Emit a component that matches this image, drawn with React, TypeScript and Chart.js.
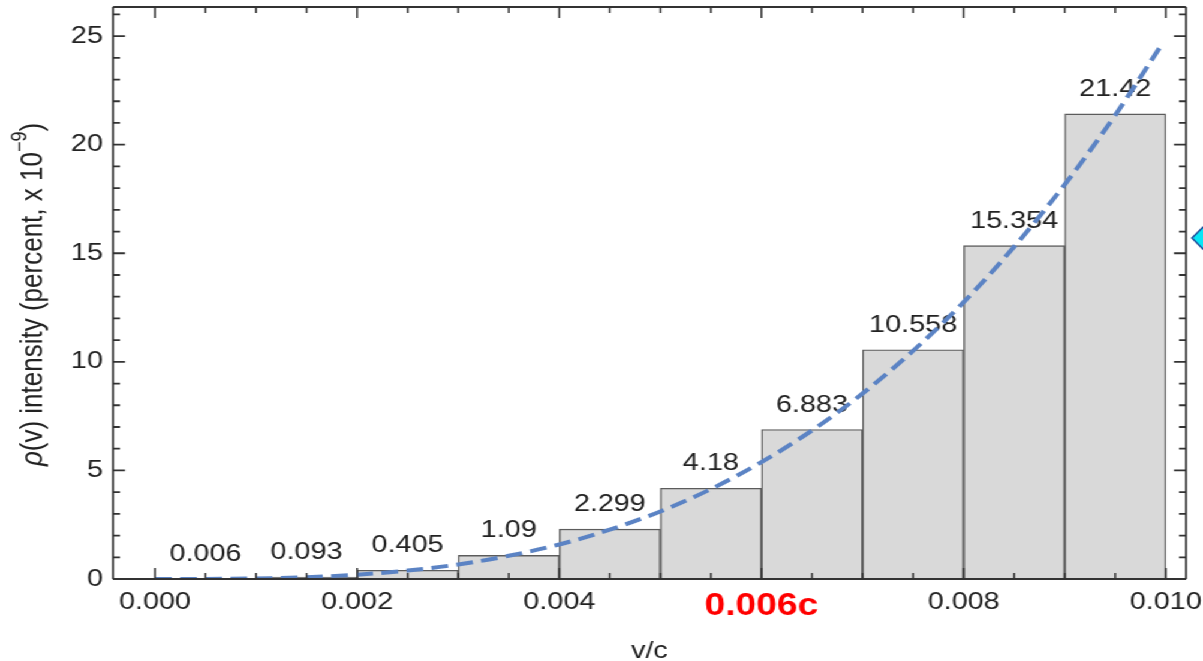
import React, { useEffect, useRef } from "react";
import { Chart, registerables } from "chart.js";

Chart.register(...registerables);

// Histogram bins (centre of each 0.001-wide bin in v/c) and their intensities
const binCenters = [0.0005, 0.0015, 0.0025, 0.0035, 0.0045, 0.0055, 0.0065, 0.0075, 0.0085, 0.0095];
const binValues = [0.006, 0.093, 0.405, 1.09, 2.299, 4.18, 6.883, 10.558, 15.354, 21.42];

// Dashed reference curve
const curveX = [0, 0.0005, 0.001, 0.0015, 0.002, 0.0025, 0.003, 0.0035, 0.004, 0.0045, 0.005, 0.0055, 0.006, 0.0065, 0.007, 0.0075, 0.008, 0.0085, 0.009, 0.0095, 0.00995];
const curveY = [0, 0.003, 0.025, 0.084, 0.2, 0.39, 0.67, 1.07, 1.59, 2.27, 3.11, 4.14, 5.38, 6.84, 8.54, 10.51, 12.75, 15.3, 18.16, 21.36, 24.54];

// Axis tick values
const xMajorTicks = [0, 0.002, 0.004, 0.006, 0.008, 0.01];
const xMinorStep = 0.0005;
const yMajorTicks = [0, 5, 10, 15, 20, 25];
const yMinorStep = 1;
const highlightTick = 0.006;

const CANVAS_W = 1003;
const CANVAS_H = 661;
const STRETCH = 1203 / CANVAS_W;
const FONT = '"Liberation Sans", Arial, Helvetica, sans-serif';
const TEXT = "#222";

const isHighlight = (v: number) => Math.abs(v - highlightTick) < 1e-9;

const decor = {
  id: "decor",
  afterDatasetDraw(chart: any, args: any) {
    if (args.index !== 0) return;
    const ctx = chart.ctx;
    const meta = chart.getDatasetMeta(0);
    ctx.save();
    ctx.font = `24px ${FONT}`;
    ctx.fillStyle = TEXT;
    ctx.textAlign = "center";
    ctx.textBaseline = "alphabetic";
    meta.data.forEach((el: any, i: number) => {
      ctx.fillText(String(binValues[i]), el.x, el.y - 18);
    });
    ctx.restore();
  },
  afterDatasetsDraw(chart: any) {
    const ctx = chart.ctx;
    const { left, right, top, bottom } = chart.chartArea;
    const xs = chart.scales.x;
    const ys = chart.scales.y;
    ctx.save();
    ctx.strokeStyle = "#333";

    // frame
    ctx.lineWidth = 2;
    ctx.beginPath();
    ctx.moveTo(left, top); ctx.lineTo(right, top);
    ctx.moveTo(left, bottom); ctx.lineTo(right, bottom);
    ctx.stroke();
    ctx.lineWidth = 2 / STRETCH;
    ctx.beginPath();
    ctx.moveTo(left, top); ctx.lineTo(left, bottom);
    ctx.moveTo(right, top); ctx.lineTo(right, bottom);
    ctx.stroke();

    // x ticks (bottom and top, pointing inward)
    ctx.lineWidth = 1.8 / STRETCH;
    ctx.beginPath();
    for (let k = 0; k * xMinorStep <= xs.max + 1e-12; k++) {
      const v = k * xMinorStep;
      if (v < xs.min) continue;
      const major = xMajorTicks.some((m) => Math.abs(m - v) < 1e-9);
      const len = major ? 11 : 6;
      const px = xs.getPixelForValue(v);
      ctx.moveTo(px, bottom); ctx.lineTo(px, bottom - len);
      ctx.moveTo(px, top); ctx.lineTo(px, top + len);
    }
    ctx.stroke();

    // y ticks (left and right, pointing inward)
    ctx.lineWidth = 1.8;
    ctx.beginPath();
    for (let k = 0; k * yMinorStep <= ys.max; k++) {
      const v = k * yMinorStep;
      const major = yMajorTicks.includes(v);
      const len = (major ? 12 : 7) / STRETCH;
      const py = ys.getPixelForValue(v);
      ctx.moveTo(left, py); ctx.lineTo(left + len, py);
      ctx.moveTo(right, py); ctx.lineTo(right - len, py);
    }
    ctx.stroke();

    // x axis title
    ctx.fillStyle = TEXT;
    ctx.font = `24px ${FONT}`;
    ctx.textAlign = "center";
    ctx.textBaseline = "alphabetic";
    ctx.fillText("v/c", (left + right) / 2, bottom + 79);

    // y axis title with italic rho and superscript exponent
    const size = 26;
    const parts = [
      { t: "ρ", f: `italic ${size}px ${FONT}`, dy: 0 },
      { t: "(v) intensity (percent, x 10", f: `${size}px ${FONT}`, dy: 0 },
      { t: "−9", f: `${Math.round(size * 0.7)}px ${FONT}`, dy: -size * 0.42 },
      { t: ")", f: `${size}px ${FONT}`, dy: 0 },
    ];
    let total = 0;
    const widths = parts.map((p) => {
      ctx.font = p.f;
      const w = ctx.measureText(p.t).width;
      total += w;
      return w;
    });
    ctx.translate(27.5, (top + bottom) / 2 + 1.5);
    ctx.rotate(-Math.PI / 2);
    ctx.textAlign = "left";
    ctx.textBaseline = "middle";
    let x = -total / 2;
    parts.forEach((p, i) => {
      ctx.font = p.f;
      ctx.fillText(p.t, x, p.dy);
      x += widths[i];
    });
    ctx.setTransform(1, 0, 0, 1, 0, 0);

    // side marker
    const mx = right + 5;
    const my = ys.getPixelForValue(15.7);
    ctx.beginPath();
    ctx.moveTo(mx, my);
    ctx.lineTo(mx + 10, my - 12);
    ctx.lineTo(mx + 20, my);
    ctx.lineTo(mx + 10, my + 12);
    ctx.closePath();
    ctx.fillStyle = "#08e6f6";
    ctx.fill();
    ctx.lineWidth = 1.5;
    ctx.strokeStyle = "#1f4e9c";
    ctx.stroke();
    ctx.restore();
  },
};

export default function App() {
  const ref = useRef<HTMLCanvasElement | null>(null);

  useEffect(() => {
    if (!ref.current) return;
    const plotLeft = 113 / STRETCH;
    const plotRight = 1186 / STRETCH;
    const chart = new Chart(ref.current, {
      type: "bar",
      data: {
        datasets: [
          {
            type: "bar",
            label: "intensity",
            data: binCenters.map((x, i) => ({ x, y: binValues[i] })),
            backgroundColor: "#d9d9d9",
            borderColor: "#5c5c5c",
            borderWidth: 1.4,
            barPercentage: 1,
            categoryPercentage: 1,
            order: 2,
          },
          {
            type: "line",
            label: "fit",
            data: curveX.map((x, i) => ({ x, y: curveY[i] })),
            borderColor: "#5b83c4",
            borderWidth: 4,
            borderDash: [14, 7],
            pointRadius: 0,
            fill: false,
            cubicInterpolationMode: "monotone",
            order: 1,
          },
        ],
      },
      options: {
        responsive: false,
        animation: false,
        devicePixelRatio: 1,
        layout: {
          autoPadding: false,
          padding: { left: 0, top: 7, right: CANVAS_W - plotRight, bottom: 0 },
        },
        plugins: {
          legend: { display: false },
          tooltip: { enabled: false },
        },
        scales: {
          x: {
            type: "linear",
            offset: false,
            min: -0.000415,
            max: 0.0102,
            grid: { display: false, drawTicks: false, offset: false },
            border: { display: false },
            afterFit: (s: any) => {
              s.height = 82;
              s.paddingLeft = 0;
              s.paddingRight = 0;
              s.paddingTop = 0;
              s.paddingBottom = 0;
            },
            ticks: {
              stepSize: 0.002,
              includeBounds: false,
              autoSkip: false,
              maxRotation: 0,
              padding: 9,
              callback: (v: any) => (isHighlight(Number(v)) ? "0.006c" : Number(v).toFixed(3)),
              color: (c: any) => (c.tick && isHighlight(c.tick.value) ? "#ff0000" : TEXT),
              font: (c: any) =>
                c.tick && isHighlight(c.tick.value)
                  ? { family: FONT, size: 31, weight: "bold" }
                  : { family: FONT, size: 24 },
            },
          },
          y: {
            type: "linear",
            min: 0,
            max: 26.34,
            grid: { display: false, drawTicks: false },
            border: { display: false },
            afterFit: (s: any) => {
              s.width = plotLeft;
              s.paddingLeft = 0;
              s.paddingRight = 0;
              s.paddingTop = 0;
              s.paddingBottom = 0;
            },
            ticks: {
              stepSize: 5,
              includeBounds: false,
              padding: 8.4,
              color: TEXT,
              font: { family: FONT, size: 24 },
              callback: (v: any) => String(v),
            },
          },
        },
      },
      plugins: [decor],
    });
    return () => chart.destroy();
  }, []);

  return (
    <div
      style={{
        position: "fixed",
        left: 0,
        top: 0,
        width: CANVAS_W,
        height: CANVAS_H,
        transform: `scaleX(${STRETCH})`,
        transformOrigin: "0 0",
        background: "#fff",
      }}
    >
      <canvas
        ref={ref}
        width={CANVAS_W}
        height={CANVAS_H}
        style={{ display: "block", width: CANVAS_W, height: CANVAS_H }}
      />
    </div>
  );
}
